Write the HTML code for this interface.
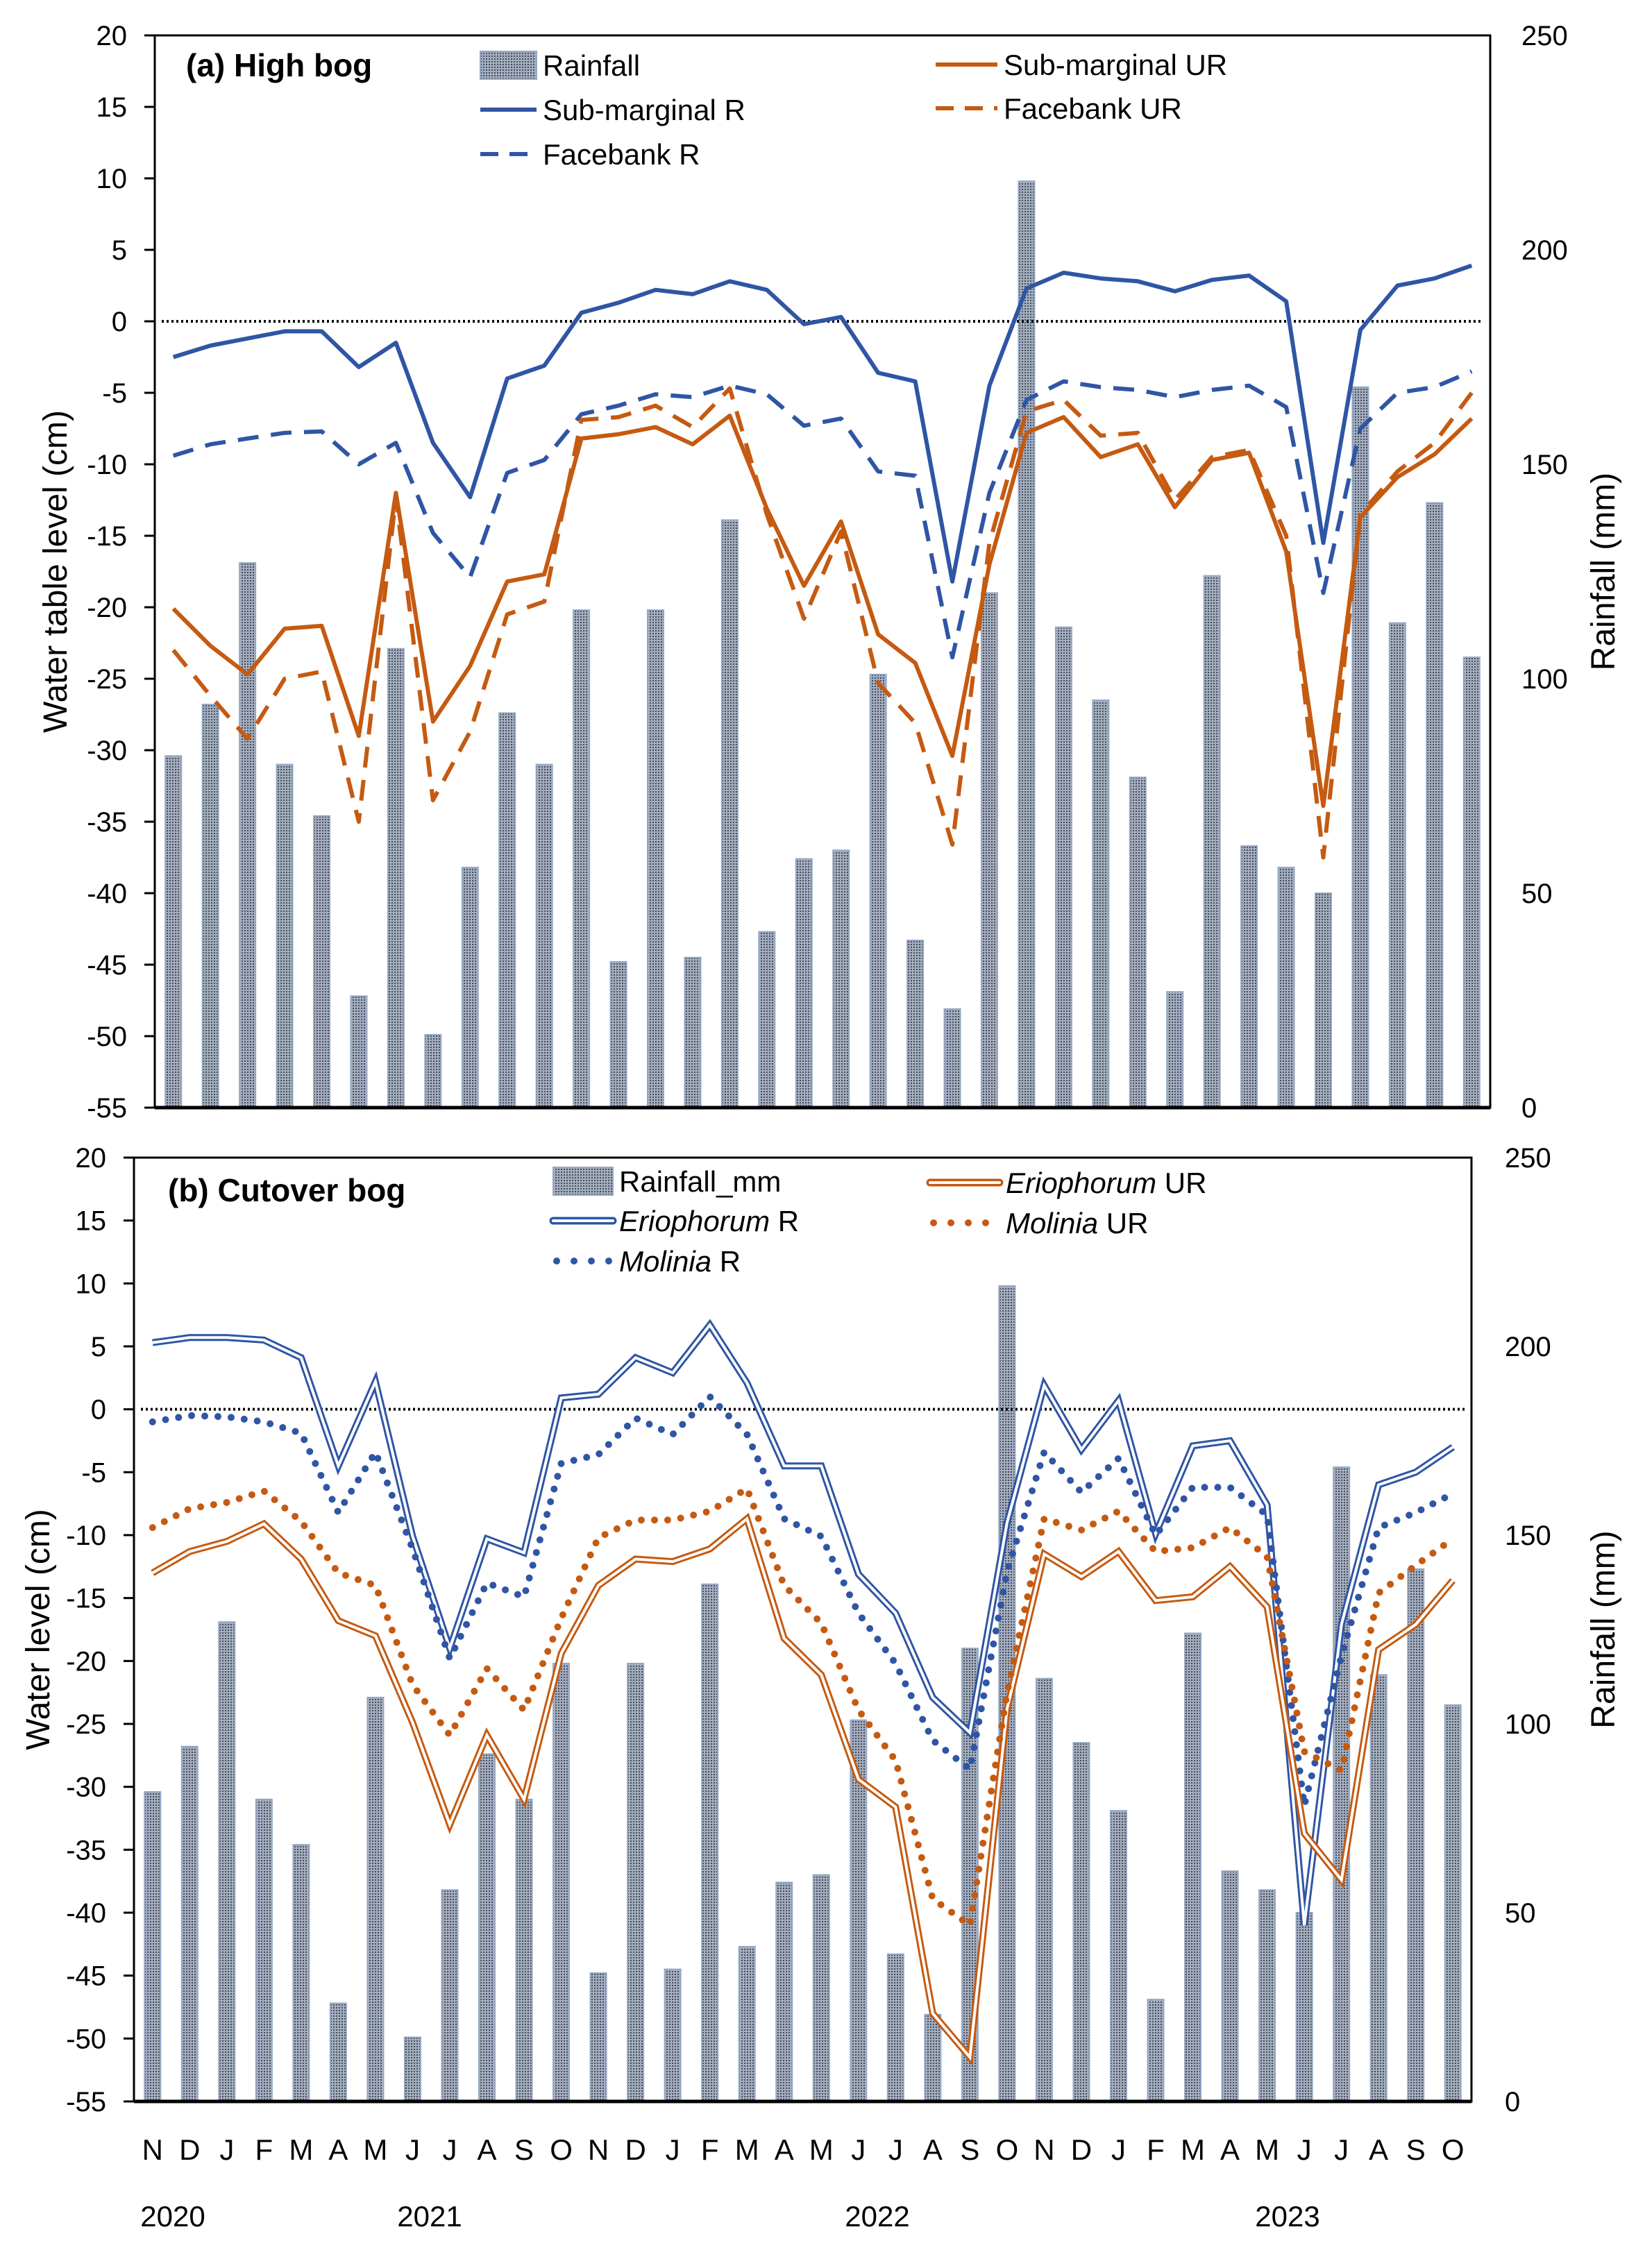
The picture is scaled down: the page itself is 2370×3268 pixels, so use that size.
<!DOCTYPE html>
<html><head><meta charset="utf-8">
<style>
html,body{margin:0;padding:0;background:#fff;}
svg text{font-family:"Liberation Sans",sans-serif;fill:#000;}
</style></head>
<body>
<svg id="chart" xmlns="http://www.w3.org/2000/svg" width="2370" height="3263" viewBox="0 0 2370 3263">
<defs>
<pattern id="barpat" width="4" height="4" patternUnits="userSpaceOnUse">
<rect width="4" height="4" fill="#a4aebf"/>
<rect x="0" y="0" width="2" height="2" fill="#444c5c"/>
</pattern>
</defs>
<g id="root"></g>
</svg>
<script>
const months = ["N","D","J","F","M","A","M","J","J","A","S","O","N","D","J","F","M","A","M","J","J","A","S","O","N","D","J","F","M","A","M","J","J","A","S","O"];
const rainfall = [82,94,127,80,68,26,107,17,56,92,80,116,34,116,35,137,41,58,60,101,39,23,120,216,112,95,77,27,124,61,56,50,168,113,141,105];
const subMarginalR = [-2.5,-1.7,-1.2,-0.7,-0.7,-3.2,-1.5,-8.5,-12.3,-4.0,-3.1,0.6,1.3,2.2,1.9,2.8,2.2,-0.2,0.3,-3.6,-4.2,-18.2,-4.5,2.3,3.4,3.0,2.8,2.1,2.9,3.2,1.4,-15.5,-0.6,2.5,3.0,3.9];
const facebankR = [-9.4,-8.6,-8.2,-7.8,-7.7,-10.0,-8.5,-14.8,-17.9,-10.6,-9.7,-6.5,-5.9,-5.1,-5.3,-4.5,-5.1,-7.3,-6.8,-10.5,-10.8,-23.5,-12.0,-5.5,-4.2,-4.6,-4.8,-5.3,-4.8,-4.5,-6.0,-19.0,-7.5,-5.0,-4.6,-3.5];
const subMarginalUR = [-20.1,-22.7,-24.7,-21.5,-21.3,-29.0,-12.0,-28.0,-24.1,-18.2,-17.7,-8.2,-7.9,-7.4,-8.6,-6.6,-13.1,-18.5,-14.0,-21.9,-23.9,-30.4,-17.0,-7.8,-6.7,-9.5,-8.6,-13.0,-9.7,-9.2,-16.1,-33.9,-13.7,-10.9,-9.3,-6.8];
const facebankUR = [-23.0,-26.2,-29.2,-25.0,-24.5,-35.0,-12.3,-33.5,-28.7,-20.5,-19.6,-6.9,-6.7,-5.9,-7.4,-4.7,-13.5,-20.8,-14.7,-25.3,-28.1,-36.6,-15.5,-6.3,-5.5,-8.0,-7.8,-12.5,-9.5,-9.0,-15.0,-37.5,-13.5,-10.5,-8.5,-5.0];
const eriophorumR = [5.3,5.7,5.7,5.5,4.1,-4.5,2.2,-10.1,-19.0,-10.3,-11.4,0.9,1.2,4.1,2.9,6.7,2.1,-4.5,-4.5,-13.1,-16.2,-22.9,-25.7,-9.0,1.9,-3.2,0.7,-9.9,-2.9,-2.5,-7.6,-41.0,-17.1,-6.0,-5.0,-3.0];
const moliniaR = [-1.0,-0.5,-0.6,-1.0,-1.9,-8.2,-3.4,-11.1,-19.8,-13.8,-14.9,-4.3,-3.6,-0.7,-2.0,1.0,-2.0,-8.7,-10.1,-16.2,-20.2,-26.3,-28.6,-12.9,-3.4,-6.6,-3.9,-10.0,-6.2,-6.2,-8.4,-31.5,-19.6,-9.4,-8.2,-6.7];
const eriophorumUR = [-13.0,-11.3,-10.5,-9.1,-11.9,-16.8,-18.0,-24.9,-33.0,-25.9,-31.0,-19.4,-14.0,-11.9,-12.1,-11.1,-8.7,-18.2,-21.1,-29.4,-31.6,-48.0,-51.5,-23.8,-11.5,-13.3,-11.3,-15.2,-14.9,-12.5,-15.7,-33.7,-37.4,-19.1,-17.1,-13.6];
const moliniaUR = [-9.4,-7.9,-7.4,-6.5,-8.9,-13.0,-14.0,-21.9,-25.9,-20.6,-23.9,-16.6,-10.2,-8.8,-8.8,-8.1,-6.3,-14.0,-17.0,-23.9,-27.9,-38.9,-41.0,-22.5,-8.7,-9.6,-8.1,-11.3,-11.0,-9.4,-11.7,-27.2,-28.7,-14.6,-12.4,-10.3];
const leftTicks = [20,15,10,5,0,-5,-10,-15,-20,-25,-30,-35,-40,-45,-50,-55];
const rightTicks = [0,50,100,150,200,250];
const yearLabels = ["2020","2021","2022","2023"];

const NS="http://www.w3.org/2000/svg";
const root=document.getElementById('root');
function el(tag,attrs,parent,txt){const e=document.createElementNS(NS,tag);for(const k in attrs)e.setAttribute(k,attrs[k]);if(txt!==undefined)e.textContent=txt;(parent||root).appendChild(e);return e;}

const BLUE="#2f55a4", ORANGE="#c55a11";

function panel(cfg){
  const g=el('g',{});
  
  
  const L=cfg.left,R=cfg.right,T=cfg.top,B=cfg.bottom;
  const step=(R-L)/months.length;
  const xc=i=>L+step*(i+0.5);
  const yL=v=>T+(20-v)/75*(B-T);
  const yR=v=>B-v/250*(B-T);
  rainfall.forEach((v,i)=>{
    const r=el('rect',{x:xc(i)-11.5,y:yR(v),width:23,height:B-yR(v),fill:'url(#barpat)',stroke:'#94a7c4','stroke-width':2},g);
    
    
  });
  const z=el('line',{x1:L+10,x2:R-10,y1:yL(0),y2:yL(0),stroke:'#000','stroke-width':4,'stroke-dasharray':'3 4'},g);
  
  
  cfg.series.forEach(s=>{
    const d=s.data.map((v,i)=>(i?'L':'M')+xc(i).toFixed(1)+' '+yL(v).toFixed(1)).join(' ');
    const sg=el('g',{},g);
    
    
    if(s.style==='double'){
      el('path',{d:d,fill:'none',stroke:s.color,'stroke-width':10,'stroke-linejoin':'miter'},sg);
      el('path',{d:d,fill:'none',stroke:'#fff','stroke-width':4,'stroke-linejoin':'miter'},sg);
    }else if(s.style==='dot'){
      el('path',{d:d,fill:'none',stroke:s.color,'stroke-width':10,'stroke-linecap':'round','stroke-dasharray':'0 19'},sg);
    }else{
      el('path',{d:d,fill:'none',stroke:s.color,'stroke-width':6,'stroke-dasharray':s.style==='dash'?'30 18':'none','stroke-linejoin':'round'},sg);
    }
  });
  const fr=el('rect',{x:L,y:T,width:R-L,height:B-T,fill:'none',stroke:'#000','stroke-width':3},g);
  
  
  el('line',{x1:L,x2:R,y1:B,y2:B,stroke:'#000','stroke-width':5},g);
  leftTicks.forEach(v=>{
    el('line',{x1:L-15,x2:L,y1:yL(v),y2:yL(v),stroke:'#000','stroke-width':3},g);
    const t=el('text',{x:cfg.tickRight,y:yL(v)+14,'font-size':40,'text-anchor':'end'},g,String(v));
    
    
  });
  rightTicks.forEach(v=>{
    const t=el('text',{x:cfg.rtickX,y:yR(v)+14,'font-size':40},g,String(v));
    
    
  });
  const yt=el('text',{x:cfg.ytitleX,y:(T+B)/2,'font-size':48,'text-anchor':'middle',transform:`rotate(-90 ${cfg.ytitleX} ${(T+B)/2})`,dy:16},g,cfg.ytitle);
  
  
  const rt=el('text',{x:cfg.rtitleX,y:(T+B)/2,'font-size':48,'text-anchor':'middle',transform:`rotate(-90 ${cfg.rtitleX} ${(T+B)/2})`,dy:16},g,'Rainfall (mm)');
  
  
  const pt=el('text',{x:cfg.titleX,y:cfg.titleY+16,'font-size':46,'font-weight':'bold'},g,cfg.title);
  
  
  cfg.legend.forEach(it=>{
    const lg=el('g',{},g);
    
    
    if(it.style==='bar'){
      el('rect',{x:it.x1,y:it.y-20,width:it.x2-it.x1,height:40,fill:'url(#barpat)',stroke:'#94a7c4','stroke-width':2},lg);
    }else if(it.style==='double'){
      el('line',{x1:it.x1,x2:it.x2,y1:it.y,y2:it.y,stroke:it.color,'stroke-width':11,'stroke-linecap':'round'},lg);
      el('line',{x1:it.x1,x2:it.x2,y1:it.y,y2:it.y,stroke:'#fff','stroke-width':4,'stroke-linecap':'round'},lg);
    }else if(it.style==='dot'){
      el('line',{x1:it.x1+5,x2:it.x2,y1:it.y,y2:it.y,stroke:it.color,'stroke-width':10,'stroke-linecap':'round','stroke-dasharray':'0 25'},lg);
    }else{
      el('line',{x1:it.x1,x2:it.x2,y1:it.y,y2:it.y,stroke:it.color,'stroke-width':6,'stroke-dasharray':it.style==='dash'?'26 16':'none'},lg);
    }
    const t=el('text',{x:it.x2+9,y:it.y+15,'font-size':42},lg);
    if(it.ital){el('tspan',{'font-style':'italic'},t,it.ital);el('tspan',{},t,it.rest);}else t.textContent=it.label;
  });
  return {xc};
}

panel({name:'panel-a-high-bog',left:223,right:2147,top:51,bottom:1596,tickRight:183,rtickX:2192,ytitleX:80,rtitleX:2310,
  ytitle:'Water table level (cm)',title:'(a) High bog',titleX:268,titleY:94,
  series:[{key:'sub-marginal-r-line',data:subMarginalR,color:BLUE,style:'solid'},
          {key:'facebank-r-line',data:facebankR,color:BLUE,style:'dash'},
          {key:'sub-marginal-ur-line',data:subMarginalUR,color:ORANGE,style:'solid'},
          {key:'facebank-ur-line',data:facebankUR,color:ORANGE,style:'dash'}],
  legend:[{style:'bar',x1:692,x2:773,y:94,label:'Rainfall'},
          {style:'solid',color:BLUE,x1:692,x2:773,y:158,label:'Sub-marginal R'},
          {style:'dash',color:BLUE,x1:692,x2:773,y:222,label:'Facebank R'},
          {style:'solid',color:ORANGE,x1:1348,x2:1437,y:93,label:'Sub-marginal UR'},
          {style:'dash',color:ORANGE,x1:1348,x2:1437,y:156,label:'Facebank UR'}]
});
const pb=panel({name:'panel-b-cutover-bog',left:193,right:2120,top:1668,bottom:3028,tickRight:153,rtickX:2168,ytitleX:55,rtitleX:2310,
  ytitle:'Water level (cm)',title:'(b) Cutover bog',titleX:242,titleY:1715,
  series:[{key:'eriophorum-r-line',data:eriophorumR,color:BLUE,style:'double'},
          {key:'molinia-r-line',data:moliniaR,color:BLUE,style:'dot'},
          {key:'eriophorum-ur-line',data:eriophorumUR,color:ORANGE,style:'double'},
          {key:'molinia-ur-line',data:moliniaUR,color:ORANGE,style:'dot'}],
  legend:[{style:'bar',x1:797,x2:883,y:1702,label:'Rainfall_mm'},
          {style:'double',color:BLUE,x1:797,x2:883,y:1759,ital:'Eriophorum',rest:' R'},
          {style:'dot',color:BLUE,x1:797,x2:883,y:1817,ital:'Molinia',rest:' R'},
          {style:'double',color:ORANGE,x1:1340,x2:1440,y:1704,ital:'Eriophorum',rest:' UR'},
          {style:'dot',color:ORANGE,x1:1340,x2:1440,y:1762,ital:'Molinia',rest:' UR'}]
});
months.forEach((m,i)=>{
  const t=el('text',{x:pb.xc(i),y:3112,'font-size':42,'text-anchor':'middle'},root,m);
  
  
});
const yearX=[249,619,1264,1855];
yearLabels.forEach((y,i)=>{
  const t=el('text',{x:yearX[i],y:3208,'font-size':42,'text-anchor':'middle'},root,y);
  
  
});
</script>
</body></html>
